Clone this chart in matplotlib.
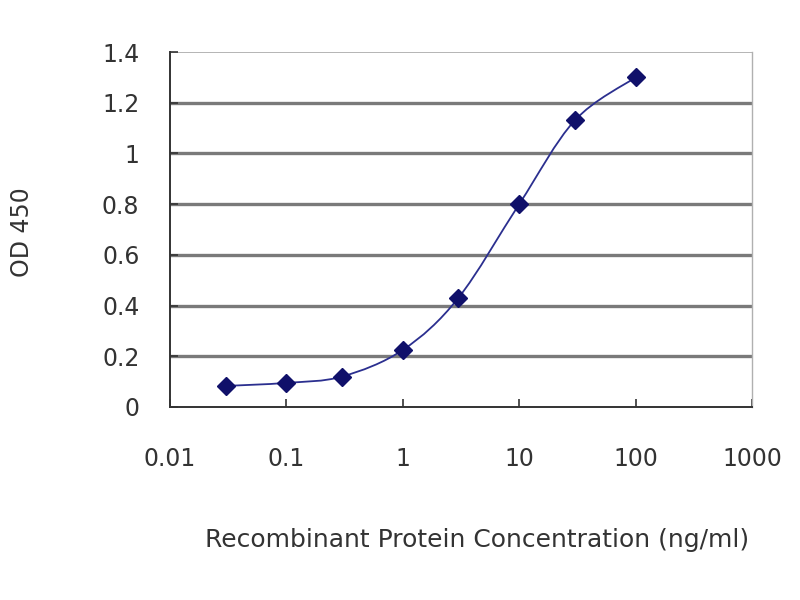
import matplotlib
matplotlib.use('Agg')
import matplotlib.pyplot as plt
import numpy as np
from matplotlib.path import Path
from matplotlib.patches import PathPatch

concentration = [0.03, 0.1, 0.3, 1, 3, 10, 30, 100]
od450 = [0.083, 0.095, 0.12, 0.225, 0.43, 0.80, 1.13, 1.30]
x_ticks = [0.01, 0.1, 1, 10, 100, 1000]
x_tick_labels = ['0.01', '0.1', '1', '10', '100', '1000']
y_ticks = [0, 0.2, 0.4, 0.6, 0.8, 1, 1.2, 1.4]
y_tick_labels = ['0', '0.2', '0.4', '0.6', '0.8', '1', '1.2', '1.4']

plt.rcParams['font.family'] = ['DejaVu Sans']
text_color = '#333333'
line_color = '#2b2f8f'
marker_color = '#10106a'


def smooth_path(xs, ys):
    """Catmull-Rom style bezier through the points, built in log-x space."""
    lx = np.log10(xs)
    ys = np.asarray(ys, dtype=float)
    verts = [(xs[0], ys[0])]
    codes = [Path.MOVETO]
    n = len(lx)
    for i in range(n - 1):
        x0, y0 = (lx[i - 1], ys[i - 1]) if i > 0 else (lx[i], ys[i])
        x1, y1 = lx[i], ys[i]
        x2, y2 = lx[i + 1], ys[i + 1]
        x3, y3 = (lx[i + 2], ys[i + 2]) if i + 2 < n else (x2, y2)
        c1 = (x1 + (x2 - x0) / 6, y1 + (y2 - y0) / 6)
        c2 = (x2 - (x3 - x1) / 6, y2 - (y3 - y1) / 6)
        verts += [(10 ** c1[0], c1[1]), (10 ** c2[0], c2[1]), (xs[i + 1], y2)]
        codes += [Path.CURVE4] * 3
    return Path(verts, codes)


fig = plt.figure(figsize=(8, 6), dpi=100)
ax = fig.add_axes([0.2125, 0.3217, 0.7275, 0.5916])
ax.set_xscale('log')
ax.set_xlim(0.01, 1000)
ax.set_ylim(0, 1.4)

for y in y_ticks[1:-1]:
    ax.axhline(y, color='#7a7a7a', lw=2.4, zorder=1)
ax.axhline(1.4, color='#a8a8a8', lw=1.2, zorder=1)

ax.add_patch(PathPatch(smooth_path(concentration, od450), fill=False,
                       edgecolor=line_color, lw=1.3, zorder=3))
ax.plot(concentration, od450, linestyle='none', marker='D', ms=9,
        color=marker_color, zorder=4)

ax.set_xticks(x_ticks)
ax.set_xticklabels(x_tick_labels)
ax.xaxis.set_minor_locator(matplotlib.ticker.NullLocator())
ax.set_yticks(y_ticks)
ax.set_yticklabels(y_tick_labels)
ax.tick_params(direction='in', length=6, width=1.2, colors='#333333',
               labelcolor=text_color, labelsize=17)
ax.tick_params(axis='x', pad=29)
ax.tick_params(axis='y', pad=22)

for side in ['left', 'bottom']:
    ax.spines[side].set_color('#333333')
    ax.spines[side].set_linewidth(1.4)
ax.spines['top'].set_visible(False)
ax.spines['right'].set_color('#b0b0b0')
ax.spines['right'].set_linewidth(1.0)

fig.text(0.596, 0.1, 'Recombinant Protein Concentration (ng/ml)',
         ha='center', va='center', fontsize=18, color=text_color)
fig.text(0.028, 0.613, 'OD 450', ha='center', va='center', rotation=90,
         fontsize=17, color=text_color)

fig.savefig('out.png', dpi=100)
